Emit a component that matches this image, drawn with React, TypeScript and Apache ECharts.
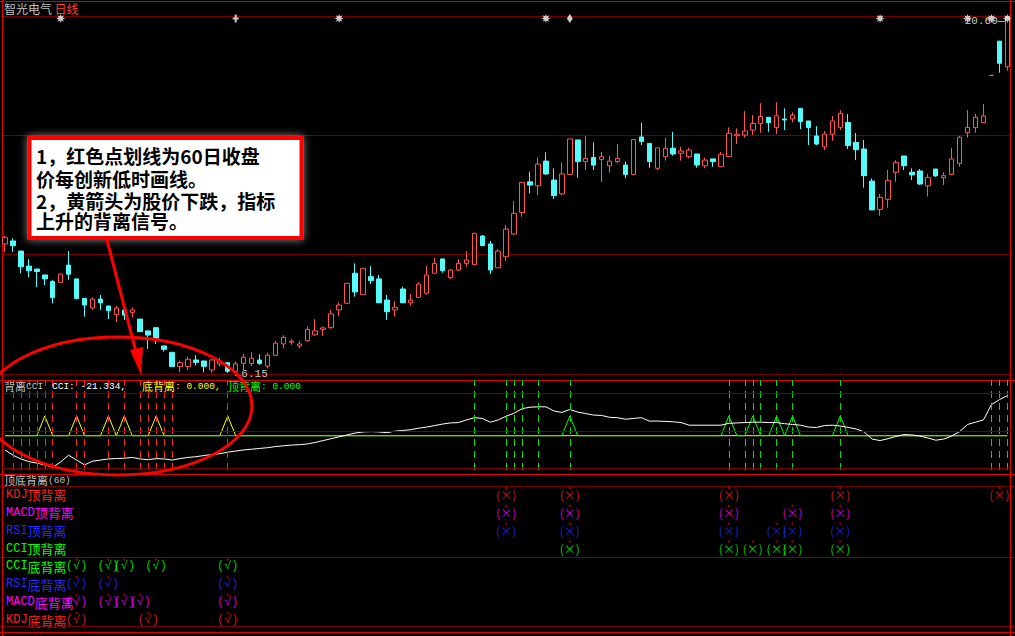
import React, { useEffect, useRef } from "react";
import * as echarts from "echarts";

// Daily candles of 智光电气: [open, close, low, high]
const candles: number[][] = [
  [11.39, 11.66, 11.07, 11.71], [11.51, 11.32, 11.07, 11.62], [11.10, 10.46, 10.20, 11.10], [10.49, 10.30, 10.03, 10.77],
  [10.37, 10.27, 9.63, 10.37], [10.13, 9.97, 9.72, 10.13], [9.86, 9.21, 8.98, 9.93], [9.83, 10.17, 9.83, 10.17],
  [10.53, 10.16, 9.93, 11.10], [9.97, 9.17, 9.17, 9.97], [9.18, 8.91, 8.44, 9.18], [8.79, 9.15, 8.71, 9.22],
  [9.15, 9.00, 8.71, 9.32], [8.87, 8.68, 8.34, 8.87], [8.52, 8.79, 8.23, 8.87], [8.71, 8.50, 8.30, 8.71],
  [8.61, 8.71, 8.41, 8.80], [8.34, 7.83, 7.83, 8.34], [7.86, 7.69, 7.13, 7.86], [7.99, 7.52, 7.33, 7.99],
  [7.25, 7.11, 7.02, 7.25], [6.99, 6.41, 6.41, 6.99], [6.41, 6.57, 6.18, 6.65], [6.41, 6.71, 6.27, 6.81],
  [6.68, 6.58, 6.45, 6.88], [6.64, 6.42, 6.17, 6.64], [6.27, 6.68, 6.17, 6.72], [6.52, 6.61, 6.41, 6.76],
  [6.57, 6.22, 6.15, 6.57], [6.22, 6.52, 6.18, 6.62], [6.54, 6.79, 6.27, 6.92], [6.54, 6.75, 6.43, 6.99],
  [6.68, 6.54, 6.48, 6.91], [6.43, 6.87, 6.34, 6.97], [6.87, 7.36, 6.84, 7.45], [7.33, 7.60, 7.15, 7.68],
  [7.40, 7.44, 7.29, 7.52], [7.25, 7.33, 7.15, 7.45], [7.46, 7.92, 7.42, 8.03], [7.70, 7.86, 7.66, 8.34],
  [7.92, 7.98, 7.65, 8.03], [7.99, 8.55, 7.95, 8.71], [8.71, 8.91, 8.46, 9.02], [8.98, 9.79, 8.98, 9.79],
  [10.20, 9.44, 9.25, 10.60], [9.33, 10.40, 9.33, 10.40], [10.06, 9.90, 9.76, 10.49], [9.97, 9.00, 9.00, 10.13],
  [9.11, 8.64, 8.30, 9.32], [8.71, 8.82, 8.44, 9.07], [9.56, 9.00, 9.00, 9.65], [9.00, 9.11, 8.88, 9.36],
  [9.22, 9.76, 9.22, 9.84], [9.39, 10.13, 9.33, 10.49], [10.20, 10.60, 10.20, 10.82], [10.78, 10.30, 10.22, 10.78],
  [10.02, 10.33, 9.97, 10.37], [10.33, 10.60, 10.29, 10.77], [10.60, 10.74, 10.46, 11.10], [10.55, 11.82, 10.55, 11.82],
  [11.71, 11.32, 11.32, 11.75], [11.39, 10.33, 10.17, 11.51], [10.42, 11.10, 10.42, 11.18], [10.87, 11.99, 10.71, 12.16],
  [11.79, 12.63, 11.75, 13.13], [12.66, 13.89, 12.49, 13.89], [13.91, 13.78, 13.44, 14.32], [13.75, 14.63, 13.37, 14.90],
  [14.75, 14.23, 14.19, 15.11], [13.98, 13.35, 13.21, 14.46], [13.42, 14.23, 13.37, 14.70], [14.21, 15.65, 14.21, 15.65],
  [15.61, 14.73, 14.08, 15.61], [14.73, 14.86, 14.39, 15.77], [14.90, 14.59, 14.39, 15.51], [14.82, 14.93, 13.91, 15.12],
  [14.56, 14.75, 14.28, 14.96], [14.73, 14.86, 14.66, 15.44], [14.59, 14.21, 14.05, 14.73], [14.21, 15.63, 14.21, 15.63],
  [15.73, 15.54, 15.40, 16.31], [15.47, 14.73, 14.48, 15.47], [14.46, 15.29, 14.39, 15.29], [14.93, 15.27, 14.77, 15.70],
  [15.27, 15.04, 14.97, 15.94], [15.07, 15.16, 14.77, 15.33], [14.93, 15.20, 14.86, 15.29], [15.04, 14.59, 14.48, 15.04],
  [14.56, 14.79, 14.46, 14.89], [14.84, 14.73, 14.52, 14.84], [14.52, 15.03, 14.52, 15.12], [14.93, 15.88, 14.93, 16.12],
  [15.78, 15.84, 15.44, 16.08], [15.81, 15.97, 15.70, 16.78], [16.01, 16.28, 15.81, 16.62], [16.28, 16.56, 15.90, 17.10],
  [16.53, 16.31, 15.94, 16.53], [16.11, 16.59, 15.85, 17.14], [16.46, 16.42, 16.01, 16.89], [16.46, 16.62, 16.32, 16.73],
  [16.89, 16.35, 16.05, 16.89], [16.38, 16.11, 15.40, 16.38], [15.77, 15.44, 15.40, 16.17], [15.33, 15.85, 15.20, 15.97],
  [15.84, 16.38, 15.57, 16.58], [16.11, 16.69, 16.01, 16.82], [16.32, 15.38, 15.24, 16.66], [15.51, 15.21, 14.79, 15.89],
  [15.24, 14.16, 13.67, 15.61], [13.94, 12.77, 12.77, 14.05], [12.79, 13.28, 12.53, 13.42], [13.20, 13.97, 12.86, 14.39],
  [14.30, 14.70, 13.91, 14.79], [14.96, 14.56, 14.39, 14.96], [14.30, 14.19, 13.98, 14.46], [14.35, 13.82, 13.78, 14.43],
  [13.75, 14.09, 13.31, 14.23], [14.43, 14.15, 14.11, 14.43], [14.08, 14.16, 13.78, 14.30], [14.21, 14.84, 14.19, 15.29],
  [14.66, 15.72, 14.52, 15.77], [15.90, 16.12, 15.70, 16.82], [16.11, 16.53, 15.90, 16.66], [16.32, 16.58, 16.32, 17.07],
  [18.23, 18.23, 18.23, 18.23], [19.62, 18.72, 18.34, 19.62], [18.58, 20.59, 18.42, 20.60],
];

// CCI indicator, one value per day
const cci: number[] = [
  -51, -65, -75, -82, -86, -91, -97, -83, -65, -78,
  -91, -81, -78, -75, -74, -73, -71, -75, -77, -74,
  -75, -78, -74, -71, -69, -66, -63, -61, -57, -54,
  -51, -49, -47, -45, -42, -40, -38, -37, -35, -31,
  -26, -21, -16, -11, -6, -3, -2, -3, -5, -1,
  1, 3, 7, 10, 14, 18, 21, 22, 29, 35,
  33, 23, 29, 39, 47, 59, 63, 64, 64, 53,
  49, 57, 50, 46, 42, 41, 36, 35, 31, 33,
  35, 26, 26, 25, 24, 22, 15, 15, 15, 15,
  15, 20, 21, 22, 23, 23, 22, 22, 19, 17,
  15, 10, 9, 14, 15, 13, 9, 5, -3, -22,
  -26, -21, -15, -10, -11, -14, -19, -25, -22, -14,
  -2, 17, 23, 29, 70, 83, 94,
];

// Days where the close makes a new 60-day low / high
const newLowDays = [1, 2, 3, 4, 5, 6, 9, 10, 13, 15, 17, 18, 19, 20, 21, 28];
const newHighDays = [59, 63, 64, 65, 67, 71, 91, 93, 94, 95, 97, 99, 105, 124, 125, 126];
// Divergence signals (底背离 / 顶背离)
const bottomDivDays = [5, 9, 13, 15, 19, 28];
const topDivDays = [71, 91, 94, 97, 99, 105];

// Signal icons along the top of the price panel
const starDays = [7, 42, 68, 110, 121, 124, 126];
const crossDays = [29];
const diamondDays = [71];

// 顶底背离(60) table
const rowNames = ["KDJ顶背离", "MACD顶背离", "RSI顶背离", "CCI顶背离", "CCI底背离", "RSI底背离", "MACD底背离", "KDJ底背离"];
const rowMarks: number[][] = [
  [63, 71, 91, 105, 125],
  [63, 71, 91, 99, 105],
  [63, 71, 91, 97, 99, 105],
  [71, 91, 94, 97, 99, 105],
  [9, 13, 15, 19, 28],
  [9, 13, 28],
  [9, 13, 15, 17, 28],
  [9, 18, 28],
];
const rowColors = ["#ff2020", "#ff00ff", "#2a2aff", "#00ff00", "#00ff00", "#2a2aff", "#ff00ff", "#ff2020"];

const days = candles.map((_, i) => String(i));

const RED = "#e00000";
const DARK = "#780000";
const GRID_L = 1.02;
const GRID_W = 1010.3;
const MARK_LEVEL = 20.54;
const CJK = '"Noto Sans CJK SC", sans-serif';
const MONO = '"Liberation Mono", "DejaVu Sans Mono", monospace';

const STAR =
  "path://M10 5L7.4 6L8.54 8.54L6 7.4L5 10L4 7.4L1.46 8.54L2.6 6L0 5L2.6 4L1.46 1.46L4 2.6L5 0L6 2.6L8.54 1.46L7.4 4Z";
const CROSS = "path://M2 0H4V3H6V5H4V8H2V5H0V3H2Z";

export default function App() {
  const ref = useRef<HTMLDivElement>(null);

  useEffect(() => {
    const chart = echarts.init(ref.current!, null, { renderer: "svg" });

    let hiIdx = 0;
    let loIdx = 0;
    candles.forEach((c, i) => {
      if (c[3] > candles[hiIdx][3]) hiIdx = i;
      if (c[2] < candles[loIdx][2]) loIdx = i;
    });
    const hi = candles[hiIdx][3];
    const lo = candles[loIdx][2];

    const bottomDiv = days.map((_, i) => (bottomDivDays.includes(i) ? 1 : 0));
    const topDiv = days.map((_, i) => (topDivDays.includes(i) ? 1 : 0));

    const dash = (color: string) => ({ color, width: 1, type: [7, 5] as number[] });
    const vLines = [
      ...newLowDays.map((i) => ({ xAxis: String(i), lineStyle: dash("#ff2020") })),
      ...newHighDays.map((i) => ({ xAxis: String(i), lineStyle: dash("#00e000") })),
    ];

    const rich: Record<string, any> = {};
    rowColors.forEach((c, k) => {
      rich["l" + k] = { color: c, fontSize: 12, fontFamily: MONO };
      rich["c" + k] = { color: c, fontSize: 13, fontFamily: CJK };
    });

    const rowSeries = rowMarks.map((marks, k) => ({
      type: "scatter",
      xAxisIndex: 2,
      yAxisIndex: 4,
      data: marks.map((i) => [String(i), rowNames[k]]),
      symbol: "circle",
      symbolSize: 1,
      itemStyle: { color: "rgba(0,0,0,0)" },
      label: {
        show: true,
        position: "inside",
        formatter: k < 4 ? "(×)" : "(√)",
        color: rowColors[k],
        fontSize: 12,
        fontFamily: k < 4 ? CJK : MONO,
      },
      z: 5,
    }));

    const dotData: any[] = [];
    rowMarks.forEach((marks, k) => marks.forEach((i) => dotData.push([String(i), rowNames[k]])));

    const hline = (y: number, color: string, z = 1) => ({
      type: "line",
      silent: true,
      z,
      shape: { x1: 0, y1: y, x2: 1015, y2: y },
      style: { stroke: color, lineWidth: 1 },
    });
    const vline = (x: number, color: string) => ({
      type: "line",
      silent: true,
      z: 1,
      shape: { x1: x, y1: 0, x2: x, y2: 636 },
      style: { stroke: color, lineWidth: 1 },
    });
    const text = (x: number, y: number, str: string, fill: string, extra: any = {}) => ({
      type: "text",
      silent: true,
      z: 60,
      x,
      y,
      style: { text: str, fill, fontSize: 11, fontFamily: CJK, verticalAlign: "middle", ...extra },
    });
    const mixRich = {
      c: { fontSize: 11, fontFamily: CJK },
      n: { fontSize: 9.5, fontFamily: MONO },
    };

    const noteLines = [
      { y: 155.5, t: "1，红色点划线为60日收盘" },
      { y: 178.5, t: "价每创新低时画线。" },
      { y: 200.5, t: "2，黄箭头为股价下跌，指标" },
      { y: 220.5, t: "上升的背离信号。" },
    ];

    const option: any = {
      animation: false,
      backgroundColor: "#000",
      grid: [
        { left: GRID_L, width: GRID_W, top: 16, height: 358 },
        { left: GRID_L, width: GRID_W, top: 380, height: 90 },
        { left: GRID_L, width: GRID_W, top: 486, height: 143 },
      ],
      xAxis: [0, 1, 2].map((g) => ({
        type: "category",
        gridIndex: g,
        data: days,
        boundaryGap: true,
        show: false,
      })),
      yAxis: [
        { type: "value", gridIndex: 0, min: 6.11, max: 20.64, show: false },
        {
          type: "value",
          gridIndex: 0,
          min: 0,
          max: 3,
          interval: 1,
          axisLine: { show: false },
          axisTick: { show: false },
          axisLabel: { show: false },
          splitLine: { show: true, lineStyle: { color: DARK, width: 1 } },
        },
        { type: "value", gridIndex: 1, min: -104.5, max: 135.5, show: false },
        { type: "value", gridIndex: 1, min: -1.741, max: 2.827, show: false },
        {
          type: "category",
          gridIndex: 2,
          data: rowNames,
          inverse: true,
          axisLine: { show: false },
          axisTick: { show: false },
          splitLine: { show: false },
          axisLabel: {
            inside: true,
            margin: 5,
            interval: 0,
            formatter: (v: string) => {
              const m = v.match(/^([A-Z]+)(.*)$/);
              const k = rowNames.indexOf(v);
              return m ? `{l${k}|${m[1]}}{c${k}|${m[2]}}` : v;
            },
            rich,
          },
        },
      ],
      series: [
        {
          type: "candlestick",
          xAxisIndex: 0,
          yAxisIndex: 0,
          data: candles,
          barWidth: 5,
          itemStyle: {
            color: "#000",
            color0: "#54fcfc",
            borderColor: "#ff5454",
            borderColor0: "#54fcfc",
            borderWidth: 1,
          },
          markPoint: {
            silent: true,
            symbol: "circle",
            symbolSize: 0,
            data: [
              {
                coord: [String(hiIdx), hi],
                label: {
                  show: true,
                  position: "left",
                  distance: 3,
                  offset: [0, 4],
                  formatter: hi.toFixed(2) + "—",
                  color: "#c8c8c8",
                  fontSize: 11,
                  fontFamily: MONO,
                },
              },
              {
                coord: [String(loIdx), lo],
                label: {
                  show: true,
                  position: "right",
                  distance: 7,
                  offset: [0, 1],
                  formatter: "←" + lo.toFixed(2),
                  color: "#c8c8c8",
                  fontSize: 11,
                  fontFamily: MONO,
                },
              },
            ],
          },
        },
        {
          type: "scatter",
          xAxisIndex: 0,
          yAxisIndex: 0,
          data: starDays.map((i) => [String(i), MARK_LEVEL]),
          symbol: STAR,
          symbolSize: 9,
          itemStyle: { color: "#fff" },
          z: 4,
        },
        {
          type: "scatter",
          xAxisIndex: 0,
          yAxisIndex: 0,
          data: crossDays.map((i) => [String(i), MARK_LEVEL]),
          symbol: CROSS,
          symbolSize: [6, 8],
          itemStyle: { color: "#fff" },
          z: 4,
        },
        {
          type: "scatter",
          xAxisIndex: 0,
          yAxisIndex: 0,
          data: diamondDays.map((i) => [String(i), MARK_LEVEL]),
          symbol: "diamond",
          symbolSize: [6, 9],
          itemStyle: { color: "#fff" },
          z: 4,
        },
        {
          name: "底背离",
          type: "line",
          xAxisIndex: 1,
          yAxisIndex: 3,
          data: bottomDiv,
          symbol: "none",
          lineStyle: { color: "#ffff00", width: 1 },
          markLine: {
            silent: true,
            symbol: ["none", "none"],
            label: { show: false },
            data: vLines,
          },
        },
        {
          name: "顶背离",
          type: "line",
          xAxisIndex: 1,
          yAxisIndex: 3,
          data: topDiv,
          symbol: "none",
          lineStyle: { color: "#00ff00", width: 1 },
        },
        {
          name: "CCI",
          type: "line",
          xAxisIndex: 1,
          yAxisIndex: 2,
          data: cci,
          symbol: "none",
          lineStyle: { color: "#ffffff", width: 1 },
          markLine: {
            silent: true,
            symbol: ["none", "none"],
            label: { show: false },
            lineStyle: { color: DARK, width: 1, type: "solid" },
            data: [{ yAxis: 100 }, { yAxis: 0 }, { yAxis: -100 }],
          },
          z: 3,
        },
        ...rowSeries,
        {
          type: "scatter",
          xAxisIndex: 2,
          yAxisIndex: 4,
          data: dotData,
          symbol: "rect",
          symbolSize: 2,
          symbolOffset: [0, -7],
          itemStyle: { color: "#d00000" },
          z: 6,
        },
      ],
      graphic: [
        // panel frame and separators
        hline(1.5, RED),
        hline(380.5, RED),
        hline(474.5, RED),
        hline(486.5, DARK),
        hline(557.5, DARK),
        hline(626.5, DARK),
        hline(632.5, RED),
        vline(2.5, RED),
        vline(1010.5, RED),
        // titles
        text(4, 8.5, "{a|智光电气} {b|日线}", "#c0c0c0", {
          rich: { a: { fill: "#c0c0c0", fontSize: 12, fontFamily: CJK }, b: { fill: "#ff4040", fontSize: 12, fontFamily: CJK } },
        }),
        text(4, 386, "{c|背离}{n|CCI}", "#c0c0c0", { rich: mixRich }),
        text(52, 386, "{n|CCI: -21.334,}", "#ffffff", { rich: mixRich }),
        text(142, 386, "{c|底背离}{n|: 0.000,}", "#ffff00", { rich: mixRich }),
        text(228, 386, "{c|顶背离}{n|: 0.000}", "#00ff00", { rich: mixRich }),
        text(4, 480, "{c|顶底背离}{n|(60)}", "#c0c0c0", { rich: mixRich }),
        // note box
        {
          type: "rect",
          silent: true,
          z: 70,
          shape: { x: 29.5, y: 138, width: 272, height: 100 },
          style: { fill: "#ffffff", stroke: "#ff0000", lineWidth: 4, shadowBlur: 8, shadowColor: "rgba(150,150,150,0.9)" },
        },
        ...noteLines.map((l) => ({
          type: "text",
          silent: true,
          z: 71,
          x: 36,
          y: l.y,
          style: { text: l.t, fill: "#000", fontSize: 19, fontWeight: "bold", fontFamily: CJK, verticalAlign: "middle" },
        })),
        // pointer arrow
        {
          type: "line",
          silent: true,
          z: 72,
          shape: { x1: 107, y1: 240, x2: 136, y2: 352 },
          style: { stroke: "#ff0000", lineWidth: 3 },
        },
        {
          type: "polygon",
          silent: true,
          z: 72,
          shape: { points: [[141, 375], [130, 350], [143, 347]] },
          style: { fill: "#ff0000" },
        },
        // highlight ellipse
        {
          type: "ellipse",
          silent: true,
          z: 72,
          shape: { cx: 118, cy: 406, rx: 134, ry: 69 },
          style: { fill: "none", stroke: "#ff0000", lineWidth: 3 },
        },
      ],
    };

    chart.setOption(option);
    return () => chart.dispose();
  }, []);

  return (
    <div
      ref={ref}
      style={{ position: "fixed", left: 0, top: 0, width: 1015, height: 636, background: "#000" }}
    />
  );
}
